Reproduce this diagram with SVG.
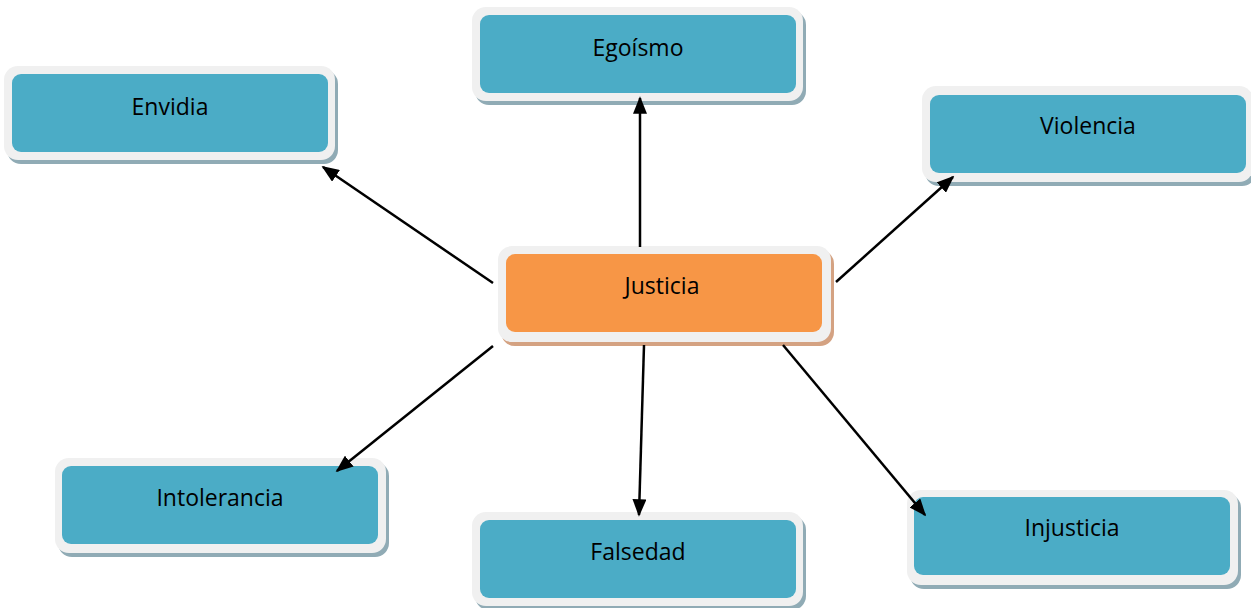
<svg xmlns="http://www.w3.org/2000/svg" width="1251" height="608" viewBox="0 0 1251 608">
<style>
.sh{fill:#90abb5}
.sho{fill:#d4a282}
.out{fill:#f0f0f0}
.in{fill:#4bacc6}
.ino{fill:#f79646}
.t{font-family:"Open Sans","Noto Sans",sans-serif;font-size:23px;fill:#000;text-anchor:middle;dominant-baseline:central}
.c{stroke:#000;stroke-width:2.5;fill:none;marker-end:url(#ah)}
</style>
<defs>
<marker id="ah" viewBox="0 0 10 10" refX="9" refY="5" markerWidth="7" markerHeight="5.6" preserveAspectRatio="none" orient="auto" markerUnits="strokeWidth">
<path d="M0,0 L10,5 L0,10 z" fill="#000"/>
</marker>
</defs>
<rect width="1251" height="608" fill="#fff"/>
<g id="egoismo">
<rect class="sh" x="475" y="11" width="331" height="94" rx="14"/>
<rect class="out" x="472" y="7" width="331" height="94" rx="14"/>
<rect class="in" x="480" y="15" width="316" height="78" rx="9"/>
<text class="t" x="638" y="47">Egoísmo</text>
</g>
<g id="envidia">
<rect class="sh" x="7" y="70" width="331" height="94" rx="14"/>
<rect class="out" x="4" y="66" width="331" height="94" rx="14"/>
<rect class="in" x="12" y="74" width="316" height="78" rx="9"/>
<text class="t" x="170" y="106">Envidia</text>
</g>
<g id="violencia">
<rect class="sh" x="925" y="90" width="331" height="96" rx="14"/>
<rect class="out" x="922" y="86" width="331" height="96" rx="14"/>
<rect class="in" x="930" y="95" width="316" height="78" rx="9"/>
<text class="t" x="1088" y="125">Violencia</text>
</g>
<g id="justicia">
<rect class="sho" x="501" y="250" width="333" height="96" rx="14"/>
<rect class="out" x="498" y="246" width="333" height="96" rx="14"/>
<rect class="ino" x="506" y="254" width="316" height="78" rx="9"/>
<text class="t" x="662" y="285">Justicia</text>
</g>
<g id="intolerancia">
<rect class="sh" x="58" y="462" width="331" height="95" rx="14"/>
<rect class="out" x="55" y="458" width="331" height="95" rx="14"/>
<rect class="in" x="62" y="466" width="316" height="78" rx="9"/>
<text class="t" x="220" y="497">Intolerancia</text>
</g>
<g id="falsedad">
<rect class="sh" x="475" y="516" width="331" height="94" rx="14"/>
<rect class="out" x="472" y="512" width="331" height="94" rx="14"/>
<rect class="in" x="480" y="520" width="316" height="78" rx="9"/>
<text class="t" x="638" y="551">Falsedad</text>
</g>
<g id="injusticia">
<rect class="sh" x="910" y="494" width="331" height="95" rx="14"/>
<rect class="out" x="907" y="490" width="331" height="95" rx="14"/>
<rect class="in" x="914" y="497" width="316" height="78" rx="9"/>
<text class="t" x="1072" y="527">Injusticia</text>
</g>
<g id="connectors">
<line class="c" x1="640" y1="247" x2="640" y2="98"/>
<line class="c" x1="493" y1="283" x2="323" y2="167"/>
<line class="c" x1="836" y1="282" x2="953" y2="177"/>
<line class="c" x1="493" y1="346" x2="337" y2="471"/>
<line class="c" x1="644" y1="345" x2="639" y2="515"/>
<line class="c" x1="783" y1="345" x2="925" y2="515"/>
</g>
</svg>
